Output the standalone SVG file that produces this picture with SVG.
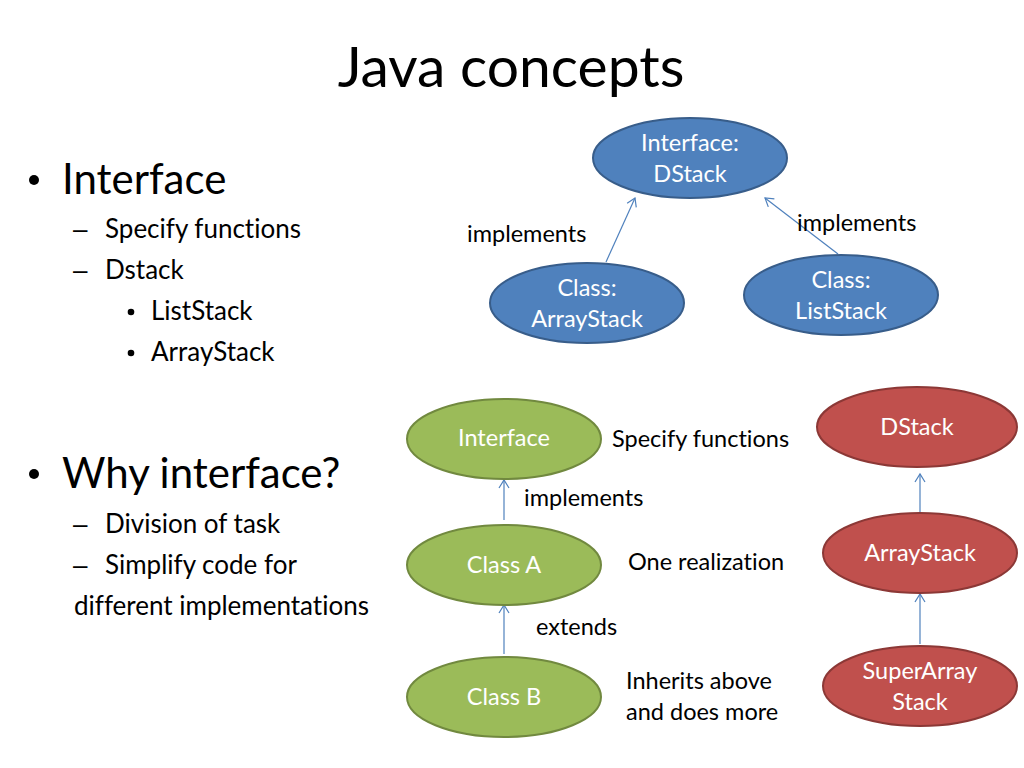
<svg xmlns="http://www.w3.org/2000/svg" width="1024" height="768" viewBox="0 0 1024 768">
<style>
text{font-family:"Lato","Open Sans",sans-serif;fill:#000;font-variant-ligatures:none}
.t{font-size:57px}
.b1{font-size:42px}
.b2{font-size:26px}
.d{font-family:"Liberation Sans",sans-serif}
.n{font-size:23.5px;fill:#fff;text-anchor:middle}
.l{font-size:23.5px}
.blue{fill:#4F81BD;stroke:#385D8A;stroke-width:2}
.green{fill:#9BBB59;stroke:#71893F;stroke-width:2}
.red{fill:#C0504D;stroke:#8C3836;stroke-width:2}
.c{stroke:#4F81BD;stroke-width:1.2;fill:none;marker-end:url(#ah)}
</style>
<defs>
<marker id="ah" markerWidth="12" markerHeight="12" refX="10" refY="6" orient="auto" markerUnits="userSpaceOnUse">
<path d="M2,1 L10,6 L2,11" fill="none" stroke="#4F81BD" stroke-width="1.2"/>
</marker>
</defs>
<rect width="1024" height="768" fill="#fff"/>
<text class="t" x="511" y="87" text-anchor="middle">Java concepts</text>
<g id="bullets">
<circle cx="34" cy="180" r="5"/>
<text class="b1" x="62" y="194">Interface</text>
<text class="b2 d" x="73" y="238">–</text><text class="b2" x="105" y="238">Specify functions</text>
<text class="b2 d" x="73" y="279">–</text><text class="b2" x="105" y="279">Dstack</text>
<circle cx="131" cy="312" r="3.3"/><text class="b2" x="151" y="320">ListStack</text>
<circle cx="131" cy="353" r="3.3"/><text class="b2" x="151" y="361">ArrayStack</text>
<circle cx="34" cy="474" r="5"/>
<text class="b1" x="62" y="488">Why interface?</text>
<text class="b2 d" x="73" y="533">–</text><text class="b2" x="105" y="533">Division of task</text>
<text class="b2 d" x="73" y="574">–</text><text class="b2" x="105" y="574">Simplify code for</text>
<text class="b2" x="74" y="615">different implementations</text>
</g>
<g id="connectors">
<line class="c" x1="606" y1="262" x2="635" y2="198"/>
<line class="c" x1="838" y1="254" x2="765" y2="198"/>
<line class="c" x1="504" y1="520" x2="504" y2="480"/>
<line class="c" x1="504" y1="654" x2="504" y2="605"/>
<line class="c" x1="920" y1="512" x2="920" y2="474"/>
<line class="c" x1="920" y1="644" x2="920" y2="594"/>
</g>
<g id="labels">
<text class="l" x="467" y="242">implements</text>
<text class="l" x="797" y="231">implements</text>
<text class="l" x="612" y="447">Specify functions</text>
<text class="l" x="524" y="506">implements</text>
<text class="l" x="628" y="570">One realization</text>
<text class="l" x="536" y="635">extends</text>
<text class="l" x="626" y="689">Inherits above</text>
<text class="l" x="626" y="720">and does more</text>
</g>
<g id="n-dstack-if"><ellipse class="blue" cx="690" cy="158" rx="97" ry="40"/><text class="n" x="690" y="151">Interface:</text><text class="n" x="690" y="182">DStack</text></g>
<g id="n-arraystack-cls"><ellipse class="blue" cx="587" cy="303" rx="97" ry="40"/><text class="n" x="587" y="296">Class:</text><text class="n" x="587" y="327">ArrayStack</text></g>
<g id="n-liststack-cls"><ellipse class="blue" cx="841" cy="295" rx="97" ry="40"/><text class="n" x="841" y="288">Class:</text><text class="n" x="841" y="319">ListStack</text></g>
<g id="n-interface"><ellipse class="green" cx="504" cy="439" rx="97" ry="40"/><text class="n" x="504" y="446">Interface</text></g>
<g id="n-classa"><ellipse class="green" cx="504" cy="565" rx="97" ry="40"/><text class="n" x="504" y="573">Class A</text></g>
<g id="n-classb"><ellipse class="green" cx="504" cy="697" rx="97" ry="40"/><text class="n" x="504" y="705">Class B</text></g>
<g id="n-dstack"><ellipse class="red" cx="917" cy="427" rx="100" ry="40"/><text class="n" x="917" y="435">DStack</text></g>
<g id="n-arraystack"><ellipse class="red" cx="920" cy="553" rx="97" ry="40"/><text class="n" x="920" y="561">ArrayStack</text></g>
<g id="n-superarray"><ellipse class="red" cx="920" cy="686" rx="97" ry="40"/><text class="n" x="920" y="679">SuperArray</text><text class="n" x="920" y="710">Stack</text></g>
</svg>
